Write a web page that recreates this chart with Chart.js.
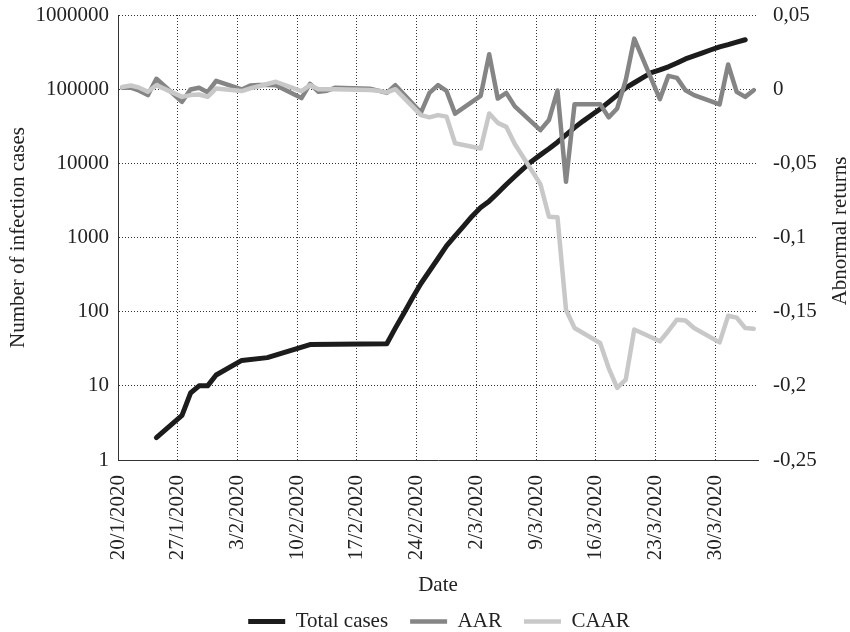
<!DOCTYPE html>
<html>
<head>
<meta charset="utf-8">
<script src="https://cdn.jsdelivr.net/npm/chart.js@4.4.1/dist/chart.umd.min.js"></script>
<style>
  html, body { margin: 0; padding: 0; background: #fff; }
  #wrap { width: 850px; height: 632px; }
</style>
</head>
<body>
<div id="wrap"><canvas id="chart"></canvas></div>
<script>
// x values are days counted from 20/1/2020
const caseDays = [4, 7, 8, 9, 10, 11, 14, 17, 22, 31, 32, 33, 34, 35, 36, 37, 38, 39, 40,
  41, 42, 43, 44, 45, 46, 47, 48, 49, 50, 51, 52, 53, 54, 55, 56, 57, 58, 59, 60,
  61, 62, 63, 64, 65, 66, 67, 68, 69, 70, 71, 72, 73];
const totalCases = [2, 4, 8, 10, 10, 14, 22, 24, 36, 37, 60, 95, 153, 240, 353, 521, 769, 1048, 1420,
  1940, 2530, 3090, 3990, 5190, 6640, 8480, 10700, 13000, 15700, 19300, 24200, 30300, 37100, 44800, 54100, 66800, 83000, 104000, 122000,
  143000, 167000, 182000, 200000, 225000, 256000, 281000, 309000, 340000, 372000, 398000, 430000, 464000];

// trading days only (weekends and 17/2 missing)
const tradingDays = [0, 1, 2, 3, 4, 7, 8, 9, 10, 11, 14, 15, 16, 17, 18, 21, 22, 23, 24, 25,
  29, 30, 31, 32, 35, 36, 37, 38, 39, 42, 43, 44, 45, 46, 49, 50, 51, 52, 53,
  56, 57, 58, 59, 60, 63, 64, 65, 66, 67, 70, 71, 72, 73, 74];
const aar = [0.001, 0.001, -0.001, -0.004, 0.007, -0.0085, -0.0002, 0.001, -0.002, 0.0056,
  -0.0002, 0.0025, 0.0028, 0.0028, 0.0027, -0.006, 0.0036, -0.0018, -0.001, 0.001,
  0.0003, -0.001, -0.0025, 0.0027, -0.0158, -0.0025, 0.0027, -0.0012, -0.0165,
  -0.0045, 0.0236, -0.0063, -0.0025, -0.0116, -0.0276, -0.0208, -0.0009, -0.0624, -0.0101,
  -0.0101, -0.019, -0.013, 0.006, 0.0341, -0.0067, 0.009, 0.0076, -0.0007, -0.004,
  -0.0103, 0.0166, -0.0018, -0.0052, -0.0007];
const caar = [0.0015, 0.0025, 0.001, -0.0018, 0.0027, -0.0052, -0.004, -0.0036, -0.0052, 0.0005,
  -0.0013, 0.0005, 0.002, 0.0035, 0.005, -0.0013, 0.0027, 0.0, 0.0, 0.0,
  -0.0005, -0.001, -0.0022, 0.0, -0.0175, -0.019, -0.0175, -0.0185, -0.0365,
  -0.04, -0.0164, -0.0227, -0.0254, -0.037, -0.064, -0.086, -0.0863, -0.1487, -0.161,
  -0.1711, -0.188, -0.2014, -0.1958, -0.162, -0.17, -0.163, -0.1554, -0.156, -0.161,
  -0.1707, -0.1528, -0.154, -0.161, -0.1615];

const dateTicks = [0, 7, 14, 21, 28, 35, 42, 49, 56, 63, 70];
const dateLabels = ['20/1/2020', '27/1/2020', '3/2/2020', '10/2/2020', '17/2/2020', '24/2/2020',
  '2/3/2020', '9/3/2020', '16/3/2020', '23/3/2020', '30/3/2020'];
const caseTicks = [1, 10, 100, 1000, 10000, 100000, 1000000];
const returnTicks = [-0.25, -0.2, -0.15, -0.1, -0.05, 0, 0.05];

// each day sits in the middle of its slot on the date axis
function toPoints(days, values) {
  return days.map((d, i) => ({x: d + 0.5, y: values[i]}));
}

Chart.defaults.font.family = '"Liberation Serif", "Times New Roman", serif';
Chart.defaults.font.size = 21;
Chart.defaults.color = '#222';

const gridLine = {display: true, color: '#333', width: 1, dash: [1, 2]};

// fixed axis sizes so the plot area lands where the original has it
function fitVertical(width) {
  return s => {
    s.width = width;
    s.paddingTop = 0;
    s.paddingBottom = 0;
  };
}

const rightTitle = {
  id: 'rightTitle',
  afterDraw(chart) {
    const ctx = chart.ctx;
    ctx.save();
    ctx.translate(840, 231);
    ctx.rotate(-Math.PI / 2);
    ctx.font = '21px "Liberation Serif"';
    ctx.fillStyle = '#222';
    ctx.textAlign = 'center';
    ctx.textBaseline = 'middle';
    ctx.fillText('Abnormal returns', 0, 0);
    ctx.restore();
  }
};

const shiftLegend = {
  id: 'shiftLegend',
  afterLayout(chart) {
    chart.legend.left += 14;
    chart.legend.right += 14;
  }
};

const lineStyle = {
  pointRadius: 0,
  tension: 0,
  borderJoinStyle: 'round',
  borderCapStyle: 'round',
  fill: false
};

new Chart(document.getElementById('chart'), {
  type: 'line',
  data: {
    datasets: [{
      label: 'Total cases',
      data: toPoints(caseDays, totalCases),
      yAxisID: 'yCases',
      borderColor: '#1c1c1c',
      backgroundColor: '#1c1c1c',
      borderWidth: 5,
      order: 3,
      ...lineStyle
    }, {
      label: 'AAR',
      data: toPoints(tradingDays, aar),
      yAxisID: 'yReturns',
      borderColor: '#858585',
      backgroundColor: '#858585',
      borderWidth: 4.5,
      order: 2,
      ...lineStyle
    }, {
      label: 'CAAR',
      data: toPoints(tradingDays, caar),
      yAxisID: 'yReturns',
      borderColor: '#c8c8c8',
      backgroundColor: '#c8c8c8',
      borderWidth: 4.5,
      order: 1,
      ...lineStyle
    }]
  },
  options: {
    responsive: true,
    maintainAspectRatio: false,
    animation: false,
    layout: {padding: {top: 15, left: 0, right: 0, bottom: -10}},
    plugins: {
      tooltip: {enabled: false},
      legend: {
        position: 'bottom',
        labels: {
          usePointStyle: true,
          pointStyle: 'line',
          pointStyleWidth: 37,
          padding: 22,
          color: '#222',
          sort: (a, b) => a.datasetIndex - b.datasetIndex
        }
      }
    },
    scales: {
      x: {
        type: 'linear',
        min: 0,
        max: 75,
        afterBuildTicks: s => { s.ticks = dateTicks.map(v => ({value: v})); },
        afterFit: s => { s.height = 129; },
        grid: {drawTicks: false, color: '#333'},
        border: {display: true, color: '#333', width: 1, dash: [1, 2]},
        ticks: {
          autoSkip: false,
          maxRotation: 90,
          minRotation: 90,
          padding: 15,
          callback: v => dateLabels[dateTicks.indexOf(v)]
        },
        title: {display: true, text: 'Date', padding: {top: 4, bottom: -9}}
      },
      yCases: {
        type: 'logarithmic',
        position: 'left',
        min: 1,
        max: 1000000,
        afterBuildTicks: s => { s.ticks = caseTicks.map(v => ({value: v})); },
        afterFit: fitVertical(118),
        grid: {drawTicks: false, color: '#333'},
        border: gridLine,
        ticks: {padding: 9, callback: v => String(v)},
        title: {display: true, text: 'Number of infection cases', padding: {top: 6, bottom: 4}}
      },
      yReturns: {
        type: 'linear',
        position: 'right',
        min: -0.25,
        max: 0.05,
        afterBuildTicks: s => { s.ticks = returnTicks.map(v => ({value: v})); },
        afterFit: fitVertical(92),
        grid: {display: false, drawTicks: false},
        border: {display: false},
        ticks: {
          padding: 15,
          callback: v => String(Number(v.toFixed(2))).replace('.', ',')
        }
      }
    }
  },
  plugins: [rightTitle, shiftLegend]
});
</script>
</body>
</html>
